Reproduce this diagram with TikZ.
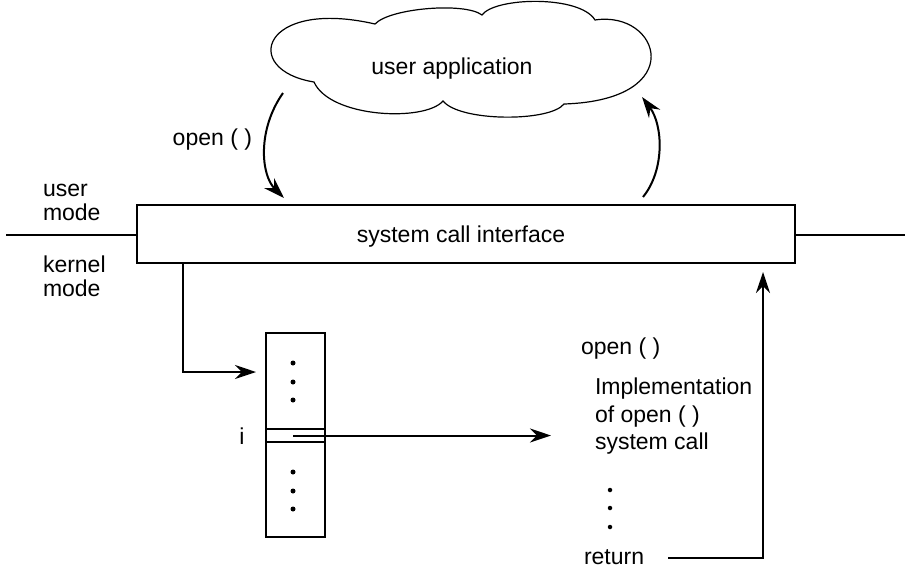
\documentclass[tikz,border=0pt]{standalone}
\usepackage{fontspec}
\setmainfont{Liberation Sans}
\usetikzlibrary{arrows.meta}
\begin{document}
\begin{tikzpicture}[x=1pt,y=-1pt,
  txt/.style={font=\fontsize{23}{27.5}\selectfont, inner sep=0pt, outer sep=0pt},
  conn/.style={line width=2pt, -{Stealth[length=21pt,width=14pt,inset=7pt]}},
  box/.style={draw, line width=1.2pt, inner sep=0pt},
  thin/.style={line width=1.2pt},
  dot/.style={fill, circle, inner sep=0pt, minimum size=5pt}]
\useasboundingbox (0,0) rectangle (910,568);

% cloud
\draw[thin] (314,82) .. controls (240,70) and (262,-2) .. (375,24)
  .. controls (390,8) and (465,2) .. (482,15)
  .. controls (495,-3) and (580,-5) .. (595,20)
  .. controls (660,10) and (690,100) .. (564,104)
  .. controls (550,122) and (460,122) .. (443,101)
  .. controls (425,122) and (330,118) .. cycle;
\node[txt, anchor=base] (app) at (452,74) {user application};

% system call interface
\node[box, minimum width=658pt, minimum height=58pt] (sci) at (466,234) {};
\node[txt, anchor=base] (scitxt) at (461,242) {system call interface};
\coordinate (lend) at (6,235);
\coordinate (rend) at (905,235);
\draw[thin] (lend) -- (lend -| sci.west);
\draw[thin] (rend -| sci.east) -- (rend);

% mode labels
\node[txt, anchor=base west] (um1) at (43,196) {user};
\node[txt, anchor=base west] (um2) at (43,220) {mode};
\node[txt, anchor=base west] (km1) at (43,272) {kernel};
\node[txt, anchor=base west] (km2) at (43,296) {mode};

% open() call and return arrows
\coordinate (la1) at (283,93);
\coordinate (la2) at (284,198);
\draw[conn] (la1) .. controls (257,130) and (261,175) .. (la2);
\node[txt, anchor=base east] (openl) at (252,145) {open ( )};
\coordinate (ra1) at (643,197);
\coordinate (ra2) at (642,97);
\draw[conn] (ra1) .. controls (665,170) and (663,125) .. (ra2);

% dispatch table
\node[box, minimum width=59pt, minimum height=204pt] (tbl) at (295.5,435) {};
\coordinate (s1) at (0,429);
\coordinate (s2) at (0,442);
\draw[thin] (tbl.west |- s1) -- (tbl.east |- s1);
\draw[thin] (tbl.west |- s2) -- (tbl.east |- s2);
\node[dot] (d1) at (293,363) {};
\node[dot] (d2) at (293,382) {};
\node[dot] (d3) at (293,400) {};
\node[dot] (d4) at (293,472) {};
\node[dot] (d5) at (293,491) {};
\node[dot] (d6) at (293,509) {};
\node[txt, anchor=base] (ilab) at (242,444) {i};

% elbow from interface to table
\coordinate (elb) at (183,372);
\coordinate (tin) at (256,372);
\draw[conn] (sci.south -| elb) -- (elb) -- (tin);

% arrow from slot i to implementation
\coordinate (slot) at (293,435.5);
\coordinate (impin) at (551,435.5);
\draw[conn] (slot) -- (impin);

% implementation text
\node[txt, anchor=base west] (openr) at (581,354) {open ( )};
\node[txt, anchor=base west] (imp1) at (595,394) {Implementation};
\node[txt, anchor=base west] (imp2) at (595,422) {of open ( )};
\node[txt, anchor=base west] (imp3) at (595,449) {system call};
\node[dot, minimum size=4.5pt] (e1) at (610,490) {};
\node[dot, minimum size=4.5pt] (e2) at (610,508) {};
\node[dot, minimum size=4.5pt] (e3) at (610,527) {};
\node[txt, anchor=base west] (ret) at (584,564) {return};

% return arrow
\coordinate (rt1) at (668,558);
\coordinate (rt2) at (763,558);
\coordinate (rt3) at (763,272);
\draw[conn] (rt1) -- (rt2) -- (rt3);
\end{tikzpicture}
\end{document}
